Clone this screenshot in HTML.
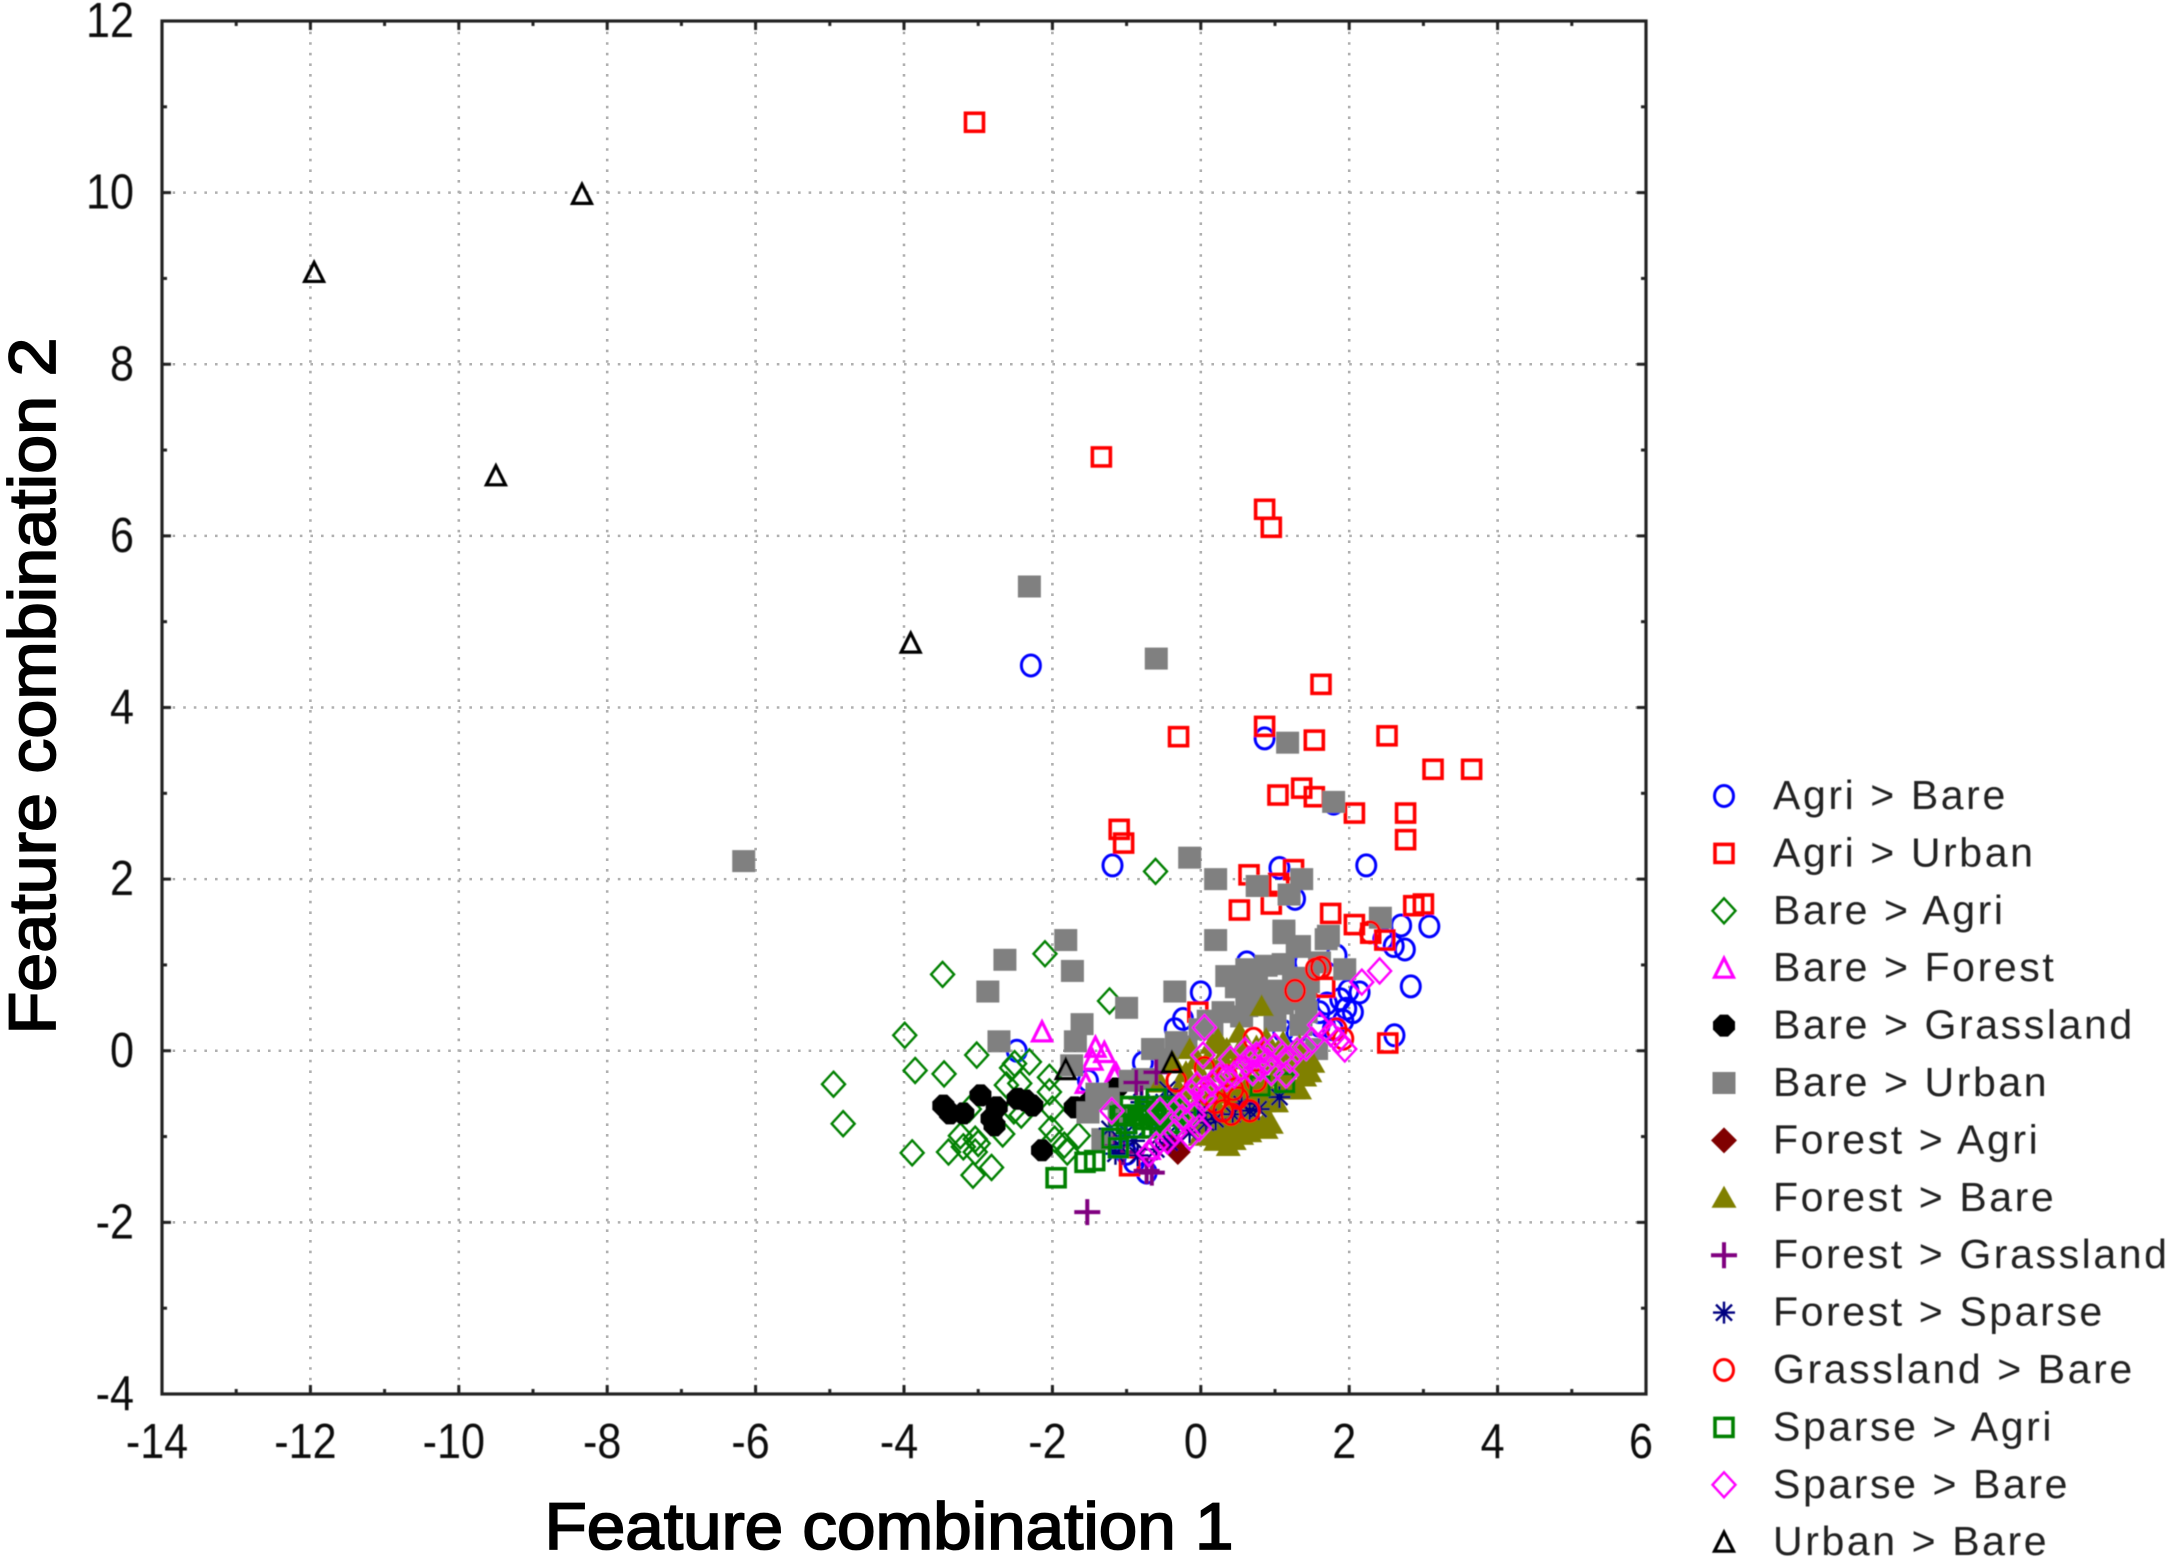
<!DOCTYPE html>
<html lang="en">
<head>
<meta charset="utf-8">
<title>Feature combination scatter plot</title>
<style>
html,body{margin:0;padding:0;background:#fff;}
svg{display:block;font-family:"Liberation Sans",Arial,sans-serif;}
</style>
</head>
<body>
<svg id="chart" xmlns="http://www.w3.org/2000/svg" width="2166" height="1559" viewBox="0 0 2166 1559">
  <defs><filter id="soft" x="-5%" y="-5%" width="110%" height="110%"><feGaussianBlur stdDeviation="0.6"/></filter></defs>
  <rect x="0" y="0" width="2166" height="1559" fill="#ffffff"/>
  <g id="grid"></g>
  <g id="marks" filter="url(#soft)"></g>
  <g id="axes" filter="url(#soft)"></g>
  <g id="legend" filter="url(#soft)"></g>
  <text x="889" y="1549" text-anchor="middle" font-size="66" textLength="689" lengthAdjust="spacingAndGlyphs" fill="#000" stroke="#000" stroke-width="1.8">Feature combination 1</text>
  <text transform="translate(55,686) rotate(-90)" text-anchor="middle" font-size="66" textLength="697" lengthAdjust="spacingAndGlyphs" fill="#000" stroke="#000" stroke-width="1.8">Feature combination 2</text>
</svg>
<script>
const xTickValues = [-14,-12,-10,-8,-6,-4,-2,0,2,4,6];
const yTickValues = [-4,-2,0,2,4,6,8,10,12];
const xMinorValues = [-13,-11,-9,-7,-5,-3,-1,1,3,5];
const yMinorValues = [-3,-1,1,3,5,7,9,11];

const agriBareX = [-2.29,.86,1.79,-1.19,1.06,2.23,1.27,2.7,3.08,2.75,2.46,2.6,2.83,2.61,.62,1.83,1.4,0,2.14,1.99,1.96,2.05,1.88,1.6,1.11,1.29,-.35,-.24,-.78,-2.48,-1.52,-.73,1.6,1.78,1.92,1.7,-1.3,-.9,-1];
const agriBareY = [4.49,3.64,2.88,2.16,2.13,2.16,1.77,1.46,1.45,1.18,1.3,1.22,.75,.18,1.03,1.11,1.03,.68,.68,.7,.49,.45,.6,.45,.23,.21,.25,.37,-.14,0,-.35,-1.42,.29,.25,.35,.55,-.55,-1.3,-1.2];

const agriUrbanX = [-3.05,-1.34,.86,.95,1.62,.86,-.3,1.53,2.51,3.65,3.13,1.04,1.36,1.53,2.07,2.76,2.76,-1.1,-1.04,.65,1.25,.52,.95,1.75,2.07,2.29,2.48,2.87,3,-.04,2.52,1.06,1.67,-.96,1.05];
const agriUrbanY = [10.82,6.92,6.31,6.1,4.27,3.78,3.66,3.62,3.67,3.28,3.28,2.98,3.06,2.96,2.77,2.77,2.46,2.58,2.42,2.05,2.11,1.64,1.71,1.6,1.47,1.37,1.29,1.69,1.71,.45,.09,.6,.74,-1.34,1.95];

const bareAgriX = [-.61,-2.1,-3.48,-1.23,-3.99,-4.95,-4.82,-3.85,-3.46,-3.02,-3.89,-3.4,-3.07,-2.82,-2.51,-2.31,-2.55,-2.04,-2.62,-2.44,-2.04,-2.42,-2.52,-2,-2.02,-3.12,-2.67,-3.24,-3.04,-3.04,-1.84,-1.8,-1.97,-1.65,-3,-3.2];
const bareAgriY = [2.09,1.13,.89,.58,.18,-.39,-.85,-.23,-.27,-.05,-1.19,-1.18,-1.45,-1.36,-.15,-.13,-.2,-.31,-.4,-.38,-.48,-.75,-.7,-.68,-.91,-.68,-.97,-.99,-1.03,-1.18,-1.1,-1.18,-1.03,-.99,-1.08,-1.12];

const bareForestX = [-2.14,-1.42,-1.46,-1.17,-1.55,-1.14,-.69,-1.3];
const bareForestY = [.22,.04,-.11,-.29,-.38,-.27,-1.15,-.02];

const bareGrasslandX = [-3.47,-3.38,-3.2,-2.97,-2.75,-2.82,-2.78,-2.47,-2.27,-2.36,-2.14,-1.7,-1.5,-1.14];
const bareGrasslandY = [-.64,-.73,-.73,-.52,-.66,-.79,-.87,-.56,-.64,-.58,-1.16,-.66,-.6,-.44];

const bareUrbanX = [-2.31,-.6,1.17,1.79,-6.16,-.15,.2,.76,1.36,1.19,2.42,.2,1.12,1.3,1.69,-1.82,-2.64,-1.73,-2.87,-1,-.35,-1.6,-2.72,-1.69,-.65,1.12,1.33,1.72,.35,.62,.88,1.11,1.6,1.94,.48,.84,.3,.62,1.4,1.42,-.64,-.33,-.01,1.56,-.78,-1.25,-1.52,-1.32,-1.74,1.3,1.45,.55,1,.15,-1.1,-.95,-1.4,1.25,1.35,1.1,.95,.75,-.45,-.2,.1];
const bareUrbanY = [5.41,4.57,3.59,2.9,2.21,2.25,2,1.92,2,1.82,1.55,1.29,1.37,1.21,1.3,1.29,1.06,.93,.69,.5,.69,.31,.11,.11,.02,1.4,1.22,1.34,.87,.95,.99,1.01,1.03,.95,.74,.56,.45,.52,.6,.45,.02,.1,.25,.02,-.33,-.56,-.72,-1.03,-.17,.85,.8,.4,.35,.3,-.75,-.35,-.5,.8,.3,.55,.7,.75,-.1,.05,.35];

const forestAgriX = [-.31,.21,.12,-.38];
const forestAgriY = [-1.18,-.87,-.82,-1.1];

const forestBareX = [.82,.52,.23,-.15,.88,1.11,1.33,1.51,1.47,1.33,1.02,.88,.88,.66,.37,.45,-.01,-.37,-.55,.15,.35,.55,.75,.95,1.15,1.3,-.05,.1,.3,.5,.7,.9,1.1,1.25,-.2,0,.2,.4,.6,.8,1,1.2,-.3,-.1,.1,.3,.5,.7,.9,-.2,0,.2,.4,.6,.8,.05,.25,.45,.65,.2,.35,.55,1.2,1.35,1.4,1.25,1.1,1,.85,.7,.5,.3,.1,-.1,-.3,1.05,.8,.6,.4,.15,-.05,.95,.75,.55,.35,.15];
const forestBareY = [.52,.21,.14,.02,.14,.1,.06,-.14,-.25,-.45,-.6,-.8,-.91,-.95,-1.11,-1.04,-.99,-.14,-.37,.08,.02,.05,.05,.02,0,-.05,-.1,-.1,-.1,-.1,-.12,-.12,-.12,-.2,-.25,-.28,-.25,-.28,-.28,-.28,-.3,-.35,-.45,-.45,-.45,-.45,-.48,-.45,-.45,-.65,-.65,-.65,-.65,-.65,-.62,-.85,-.85,-.85,-.8,-1.05,-1.02,-.98,-.15,-.2,-.3,-.45,-.45,-.6,-.6,-.75,-.75,-.78,-.8,-.8,-.6,-.25,-.45,-.5,-.5,-.55,-.6,-.85,-.9,-.9,-.95,-.95];

const forestGrasslandX = [-1.53,-.73,-.87,-.6,-1.16,-.66,-1.05,-.8];
const forestGrasslandY = [-1.88,-1.4,-.37,-.25,-1.11,-1.42,-1.18,-.55];

const forestSparseX = [-.65,-.02,.07,-.55,-.42,-1.1,.66,.43,1.06,-1.23,-1,-.7,-.5,-.8,-.3,-.9,-.15,.2,.55,.78,-.6,-1.15,-.85,-.45];
const forestSparseY = [-.68,-.72,-.84,-.99,-1.07,-1.1,-.7,-.74,-.54,-.91,-.95,-.8,-.6,-.6,-.85,-1.05,-.95,-.8,-.62,-.68,-1.15,-1.2,-1.22,-.45];

const grasslandBareX = [1.62,1.27,.71,-.33,.41,.66,.35,.44,1.83,1.92,2.28,.1,.55,.2,.75,1.55,.3,.5,.05];
const grasslandBareY = [.97,.7,.14,-.35,-.74,-.7,-.29,-.45,.25,.14,1.38,-.5,-.2,-.6,-.35,.95,-.7,-.55,-.2];

const sparseAgriX = [-1.95,-1.56,-1.43,-1.11,-1.09,-.91,-.6,-.6,-.78,-.46,.8,1.13,-1.2,-1,-.75,-.5,-.4,-.65,-.9,-.3,-1.05,-.95,-.85,-.7,-.55,-.35,-.2,-.75,-.6,-.45];
const sparseAgriY = [-1.48,-1.3,-1.28,-1.13,-.76,-.76,-.56,-.72,-.8,-.76,-.41,-.37,-1.02,-.85,-.65,-.65,-.72,-.9,-.9,-.68,-.75,-.65,-.75,-.75,-.85,-.85,-.75,-.7,-.8,-.85];

const sparseBareX = [2.41,2.17,1.94,.05,.03,1.42,1.6,1.75,1.85,1.3,1,.85,.75,.65,.9,.8,.7,.55,.45,.35,.25,.15,.05,-.05,-.12,.05,-.2,-.3,-.25,-.1,-.02,-.15,-.35,-.6,-.7,-.45,-1.2,1.1,1.2,1.15,.95,.6,.4,1.5,-.55];
const sparseBareY = [.93,.8,.02,.27,-.05,.04,.3,.2,.12,0,.05,0,-.05,-.1,-.12,-.2,-.25,-.2,-.28,-.32,-.3,-.38,-.45,-.4,-.5,-.55,-.58,-.65,-.78,-.75,-.9,-1,-.95,-1.1,-1.2,-1.05,-.7,-.05,-.1,-.28,-.25,0,-.1,.12,-.7];

const urbanBareX = [-11.95,-8.34,-9.5,-3.91,-1.82,-.39];
const urbanBareY = [9.07,9.98,6.7,4.75,-.22,-.14];

const seriesNames = ["Agri > Bare","Agri > Urban","Bare > Agri","Bare > Forest","Bare > Grassland","Bare > Urban","Forest > Agri","Forest > Bare","Forest > Grassland","Forest > Sparse","Grassland > Bare","Sparse > Agri","Sparse > Bare","Urban > Bare"];
const seriesX = [agriBareX,agriUrbanX,bareAgriX,bareForestX,bareGrasslandX,bareUrbanX,forestAgriX,forestBareX,forestGrasslandX,forestSparseX,grasslandBareX,sparseAgriX,sparseBareX,urbanBareX];
const seriesY = [agriBareY,agriUrbanY,bareAgriY,bareForestY,bareGrasslandY,bareUrbanY,forestAgriY,forestBareY,forestGrasslandY,forestSparseY,grasslandBareY,sparseAgriY,sparseBareY,urbanBareY];
const seriesShapes = ["circle","square","diamond","triangle","solidCircle","solidSquare","solidDiamond","solidTriangle","plus","star","circle","square","diamond","triangle"];
const seriesColors = ["#0000ff","#ff0000","#008000","#ff00ff","#000000","#808080","#800000","#808000","#800080","#000080","#ff0000","#008000","#ff00ff","#000000"];

const NS = "http://www.w3.org/2000/svg";
const plot = {left:162, right:1646, top:21, bottom:1394, xMin:-14, xMax:6, yMin:-4, yMax:12};
function xScale(v){ return plot.left + (v - plot.xMin) * (plot.right - plot.left) / (plot.xMax - plot.xMin); }
function yScale(v){ return plot.bottom - (v - plot.yMin) * (plot.bottom - plot.top) / (plot.yMax - plot.yMin); }
function make(tag, attrs, parent){
  const el = document.createElementNS(NS, tag);
  for (const k in attrs) el.setAttribute(k, attrs[k]);
  parent.appendChild(el);
  return el;
}
function drawShape(shape, cx, cy, color, parent){
  const g = make("g", {transform:"translate(" + cx + "," + cy + ")", fill:"none", stroke:color, "stroke-width":3}, parent);
  if (shape === "circle") make("ellipse", {rx:9.5, ry:10.5}, g);
  if (shape === "square") make("rect", {x:-9, y:-9, width:18, height:18, "stroke-width":3.6}, g);
  if (shape === "diamond") make("path", {d:"M0,-12.5L11.5,0L0,12.5L-11.5,0Z", "stroke-width":2.4}, g);
  if (shape === "triangle") make("path", {d:"M0,-10L9.5,9H-9.5Z", "stroke-width":3.2}, g);
  if (shape === "solidCircle") make("path", {d:"M-4,-11H4L11,-4V4L4,11H-4L-11,4V-4Z", fill:color, stroke:"none"}, g);
  if (shape === "solidSquare") make("rect", {x:-11.5, y:-11, width:23, height:22, fill:color, stroke:"none"}, g);
  if (shape === "solidDiamond") make("path", {d:"M0,-13L13,0L0,13L-13,0Z", fill:color, stroke:"none"}, g);
  if (shape === "solidTriangle") make("path", {d:"M0,-12L12.5,10H-12.5Z", fill:color, stroke:"none"}, g);
  if (shape === "plus") make("path", {d:"M-13,0H13M0,-13V13", "stroke-width":4}, g);
  if (shape === "star") make("path", {d:"M-11,0H11M0,-11V11M-8,-8L8,8M-8,8L8,-8", "stroke-width":2.4}, g);
  return g;
}

const gridG = document.getElementById("grid");
xTickValues.slice(1, -1).forEach(function(v){
  const line = make("line", {x1:xScale(v), x2:xScale(v), y1:plot.top, y2:plot.bottom, stroke:"#b0b0b0", "stroke-width":2.6, "stroke-dasharray":"2.6 8"}, gridG);
  
  
});
yTickValues.slice(1, -1).forEach(function(v){
  const line = make("line", {x1:plot.left, x2:plot.right, y1:yScale(v), y2:yScale(v), stroke:"#b0b0b0", "stroke-width":2.6, "stroke-dasharray":"2.6 8"}, gridG);
  
  
});

const marksG = document.getElementById("marks");
seriesNames.forEach(function(name, s){
  const group = make("g", {}, marksG);
  
  
  seriesX[s].forEach(function(xv, i){
    const point = drawShape(seriesShapes[s], xScale(xv), yScale(seriesY[s][i]), seriesColors[s], group);
    
    
  });
});

const axesG = document.getElementById("axes");
const frame = make("rect", {x:plot.left, y:plot.top, width:plot.right-plot.left, height:plot.bottom-plot.top, fill:"none", stroke:"#222", "stroke-width":3.2}, axesG);


function xTick(v, len){
  const t1 = make("line", {x1:xScale(v), x2:xScale(v), y1:plot.bottom, y2:plot.bottom-len, stroke:"#222", "stroke-width":3}, axesG);
  
  
  const t2 = make("line", {x1:xScale(v), x2:xScale(v), y1:plot.top, y2:plot.top+len, stroke:"#222", "stroke-width":3}, axesG);
  
  
}
function yTick(v, len){
  const t1 = make("line", {x1:plot.left, x2:plot.left+len, y1:yScale(v), y2:yScale(v), stroke:"#222", "stroke-width":3}, axesG);
  
  
  const t2 = make("line", {x1:plot.right, x2:plot.right-len, y1:yScale(v), y2:yScale(v), stroke:"#222", "stroke-width":3}, axesG);
  
  
}
xTickValues.forEach(function(v){ xTick(v, 9); });
xMinorValues.forEach(function(v){ xTick(v, 5); });
yTickValues.forEach(function(v){ yTick(v, 9); });
yMinorValues.forEach(function(v){ yTick(v, 5); });

xTickValues.forEach(function(v){
  const t = make("text", {transform:"translate(" + (xScale(v)-5) + ",1458) scale(.88,1)", "text-anchor":"middle", "font-size":49, fill:"#111"}, axesG);
  t.textContent = String(v);
  
  
});
yTickValues.forEach(function(v){
  const t = make("text", {transform:"translate(134," + (yScale(v)+16) + ") scale(.88,1)", "text-anchor":"end", "font-size":49, fill:"#111"}, axesG);
  t.textContent = String(v);
  
  
});

const legendG = document.getElementById("legend");
seriesNames.forEach(function(name, i){
  const rowY = 809 + i * 57.4;
  const row = make("g", {}, legendG);
  
  
  const marker = drawShape(seriesShapes[i], 1724, rowY - 13, seriesColors[i], row);
  
  
  const label = make("text", {x:1773, y:rowY, "font-size":41, "letter-spacing":2.6, fill:"#222"}, row);
  label.textContent = name;
  
  
});
</script>
</body>
</html>
